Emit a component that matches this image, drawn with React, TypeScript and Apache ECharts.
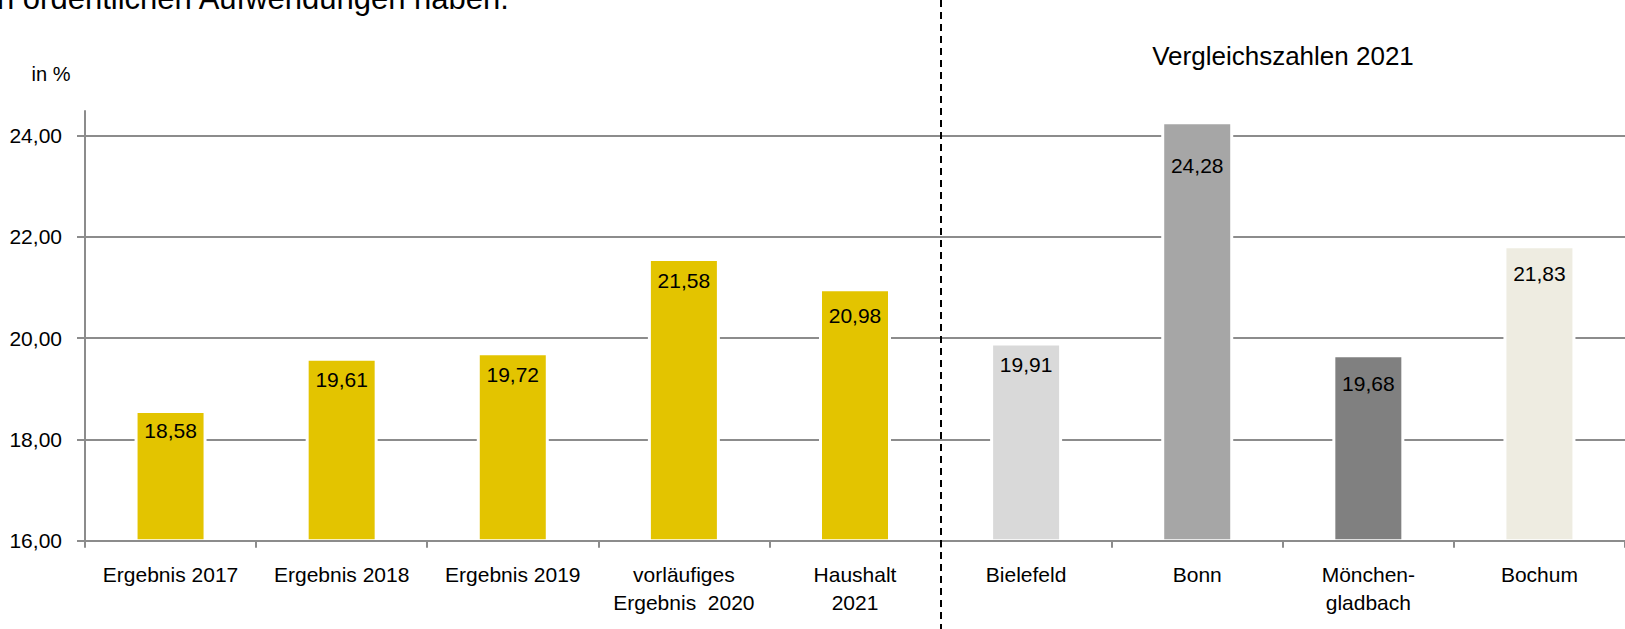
import React, { useEffect, useRef } from "react";
import * as echarts from "echarts";

const categories = [
  "Ergebnis 2017",
  "Ergebnis 2018",
  "Ergebnis 2019",
  "vorläufiges\nErgebnis  2020",
  "Haushalt\n2021",
  "Bielefeld",
  "Bonn",
  "Mönchen-\ngladbach",
  "Bochum",
];
const values = [18.58, 19.61, 19.72, 21.58, 20.98, 19.91, 24.28, 19.68, 21.83];
const yTicks = [16, 18, 20, 22, 24];

// styling (not data)
const barColors = ["#E3C400", "#E3C400", "#E3C400", "#E3C400", "#E3C400", "#D9D9D9", "#A6A6A6", "#808080", "#EEECE1"];
const labelDistance = [9, 10, 10, 11, 15, 10, 32, 17, 16];

const FONT = "'Liberation Sans Narrow', 'Arial Narrow', 'Liberation Sans', Arial, sans-serif";
const fmt = (v: number) => v.toFixed(2).replace(".", ",");

export default function App() {
  const ref = useRef<HTMLDivElement>(null);
  useEffect(() => {
    if (!ref.current) return;
    const chart = echarts.init(ref.current, undefined, { renderer: "svg" });
    chart.setOption({
      animation: false,
      textStyle: { fontFamily: FONT },
      grid: { left: 85, right: -8, top: 111, bottom: 88.3, containLabel: false },
      xAxis: {
        type: "category",
        data: categories,
        z: 3,
        axisLine: { lineStyle: { color: "#8C8C8C", width: 2 } },
        axisTick: { show: true, length: 7, lineStyle: { color: "#8C8C8C", width: 2 } },
        axisLabel: { color: "#000", fontSize: 21, lineHeight: 28, margin: 20, fontFamily: FONT, interval: 0 },
        splitLine: { show: false },
      },
      yAxis: {
        type: "value",
        min: 16,
        max: 24.48,
        interval: 2,
        axisLine: { show: true, lineStyle: { color: "#8C8C8C", width: 2 } },
        axisTick: { show: true, length: 8, inside: false, customValues: yTicks, lineStyle: { color: "#8C8C8C", width: 2 } },
        axisLabel: {
          color: "#000",
          fontSize: 21,
          margin: 23,
          fontFamily: FONT,
          customValues: yTicks,
          formatter: (v: number) => fmt(v),
        },
        splitLine: { show: true, showMinLine: false, lineStyle: { color: "#8C8C8C", width: 2 } },
      },
      series: [
        {
          type: "bar",
          barWidth: 72,
          data: values.map((v, i) => ({
            value: v,
            itemStyle: { color: barColors[i], borderColor: "#FFFFFF", borderWidth: 3 },
            label: { distance: labelDistance[i] },
          })),
          label: {
            show: true,
            position: "insideTop",
            color: "#000",
            fontSize: 21,
            lineHeight: 24,
            fontFamily: FONT,
            formatter: (p: any) => fmt(p.value),
          },
        },
      ],
    });

    const x4 = chart.convertToPixel({ xAxisIndex: 0 }, categories[4]) as number;
    const x5 = chart.convertToPixel({ xAxisIndex: 0 }, categories[5]) as number;
    const xDiv = Math.round((x4 + x5) / 2);

    chart.setOption({
      graphic: [
        {
          type: "line",
          z: 10,
          shape: { x1: xDiv, y1: 0, x2: xDiv, y2: 629 },
          style: { stroke: "#000", lineWidth: 2, lineDash: [7, 5] },
        },
        {
          type: "text",
          x: -3,
          y: -2,
          style: { text: "n ordentlichen Aufwendungen haben.", font: `31px ${FONT}`, fill: "#000", textVerticalAlign: "middle" },
        },
        {
          type: "text",
          x: 51,
          y: 74,
          style: { text: "in %", font: `20px ${FONT}`, fill: "#000", textAlign: "center", textVerticalAlign: "middle" },
        },
        {
          type: "text",
          x: 1283,
          y: 56,
          style: { text: "Vergleichszahlen 2021", font: `26px ${FONT}`, fill: "#000", textAlign: "center", textVerticalAlign: "middle" },
        },
      ],
    });

    return () => chart.dispose();
  }, []);

  return <div ref={ref} style={{ position: "absolute", left: 0, top: 0, width: 1625, height: 629 }} />;
}
